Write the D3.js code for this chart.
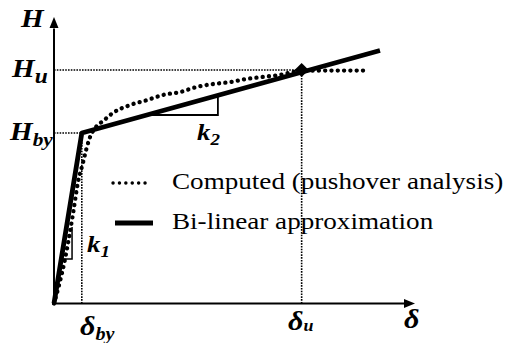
<!DOCTYPE html>
<html>
<head>
<meta charset="utf-8">
<script src="https://cdn.jsdelivr.net/npm/d3@7"></script>
<style>
body{margin:0;background:#fff}
svg{display:block}
text{font-family:"Liberation Serif","Tinos","DejaVu Serif",serif}
</style>
</head>
<body>
<svg id="chart" width="507" height="343"></svg>
<script>
// values in % of the axis span (no units on the original figure)
var computedX = [0, 3.0, 5.3, 6.6, 8.0, 8.9, 9.7, 11.6, 13.6, 16.3, 21.1, 25.8, 30.2, 34.9, 39.6, 44.0, 48.8, 53.5, 57.9, 62.6, 66.2, 68.7, 77.8, 86.1];
var computedY = [0, 15.2, 31.6, 42.1, 49.0, 53.6, 57.1, 61.6, 63.7, 66.5, 69.3, 71.0, 72.8, 73.8, 75.6, 76.6, 77.3, 78.4, 79.1, 79.8, 80.8, 81.2, 81.3, 81.3];
var bilinearX = [0, 7.7, 90.3];
var bilinearY = [0, 59.5, 88.3];
var deltaBy = 7.7, deltaU = 68.6;
var Hby = 59.5, Hu = 81.5;
var k1X = [2.0, 5.0, 5.0], k1Y = [15.5, 15.5, 26.7];
var k2X = [25.8, 45.4, 45.4], k2Y = [65.8, 65.8, 72.2];
var legendLabels = ["Computed (pushover analysis)", "Bi-linear approximation"];

var svg = d3.select("#chart");
var x = d3.scaleLinear().domain([0, 100]).range([54, 415]);
var y = d3.scaleLinear().domain([0, 100]).range([303.5, 17]);
var line = d3.line().x(function(d){ return x(d[0]); }).y(function(d){ return y(d[1]); });
var stretch = 1.12;

// reference lines
var guides = [
	[[0, Hu], [deltaU, Hu]],
	[[0, Hby], [deltaBy, Hby]],
	[[deltaBy, 0], [deltaBy, Hby]],
	[[deltaU, 0], [deltaU, Hu]]
];
svg.selectAll(".guide").data(guides).enter().append("path")
	.attr("class", "guide")
	.attr("d", line)
	.attr("fill", "none")
	.attr("stroke", "#000")
	.attr("stroke-width", 1.6)
	.attr("stroke-dasharray", "1.6,1.2");

// axes
svg.append("path").attr("d", line([[0, 0], [0, 96]])).attr("stroke", "#000").attr("stroke-width", 2);
svg.append("path").attr("d", line([[0, 0], [97, 0]])).attr("stroke", "#000").attr("stroke-width", 2);
svg.append("path")
	.attr("d", "M" + x(0) + "," + y(100) + "l-4.5,11l9,0z")
	.attr("fill", "#000");
svg.append("path")
	.attr("d", "M" + x(100) + "," + y(0) + "l-11,-4.5l0,9z")
	.attr("fill", "#000");

// slope triangles
svg.append("path").attr("d", line(d3.zip(k1X, k1Y))).attr("fill", "none").attr("stroke", "#000").attr("stroke-width", 1.5);
svg.append("path").attr("d", line(d3.zip(k2X, k2Y))).attr("fill", "none").attr("stroke", "#000").attr("stroke-width", 1.8);

// computed curve
svg.append("path")
	.attr("d", line.curve(d3.curveMonotoneX)(d3.zip(computedX, computedY)))
	.attr("fill", "none")
	.attr("stroke", "#000")
	.attr("stroke-width", 4.3)
	.attr("stroke-linecap", "round")
	.attr("stroke-dasharray", "0.1,6.2");
line.curve(d3.curveLinear);

// bi-linear
svg.append("path")
	.attr("d", line(d3.zip(bilinearX, bilinearY)))
	.attr("fill", "none")
	.attr("stroke", "#000")
	.attr("stroke-width", 4.8)
	.attr("stroke-linejoin", "round");

svg.append("path")
	.attr("d", d3.symbol(d3.symbolSquare, 100)())
	.attr("transform", "translate(" + x(deltaU) + "," + y(Hu) + ") rotate(45)")
	.attr("fill", "#000");

// labels
function label(px, py, main, sub, size, subSize, subDx, subDy){
	var t = svg.append("text")
		.attr("transform", "translate(" + px + "," + py + ") scale(" + stretch + ",1)")
		.attr("font-weight", "bold")
		.attr("font-style", "italic")
		.attr("font-size", size);
	t.append("tspan").text(main);
	if(sub){
		t.append("tspan").attr("font-size", subSize).attr("dx", subDx).attr("dy", subDy).text(sub);
	}
}
label(21, 27, "H", null, 26);
label(12, y(Hu) + 7, "H", "u", 26, 21, 0, 6);
label(10, y(Hby) + 7, "H", "by", 26, 19, 0, 6);
label(80, 335, "\u03b4", "by", 27, 18, 0, 5);
label(288, 330, "\u03b4", "u", 27, 16, 0, 1);
label(404, 328, "\u03b4", null, 27);
label(197, 140, "k", "2", 24, 17, 0, 5);
label(87, 252, "k", "1", 24, 17, 0, 5);

// legend
var legend = svg.append("g");
legend.append("path").attr("d", "M113,183H151").attr("stroke", "#000").attr("stroke-width", 3.4).attr("stroke-linecap", "round").attr("stroke-dasharray", "0.1,6.3");
legend.append("path").attr("d", "M115,223H153").attr("stroke", "#000").attr("stroke-width", 4.8);
legend.selectAll("text").data(legendLabels).enter().append("text")
	.attr("transform", function(d, i){ return "translate(172," + (189 + i * 39.5) + ") scale(1.13,1)"; })
	.attr("font-size", 24)
	.text(function(d){ return d; });
</script>
</body>
</html>
